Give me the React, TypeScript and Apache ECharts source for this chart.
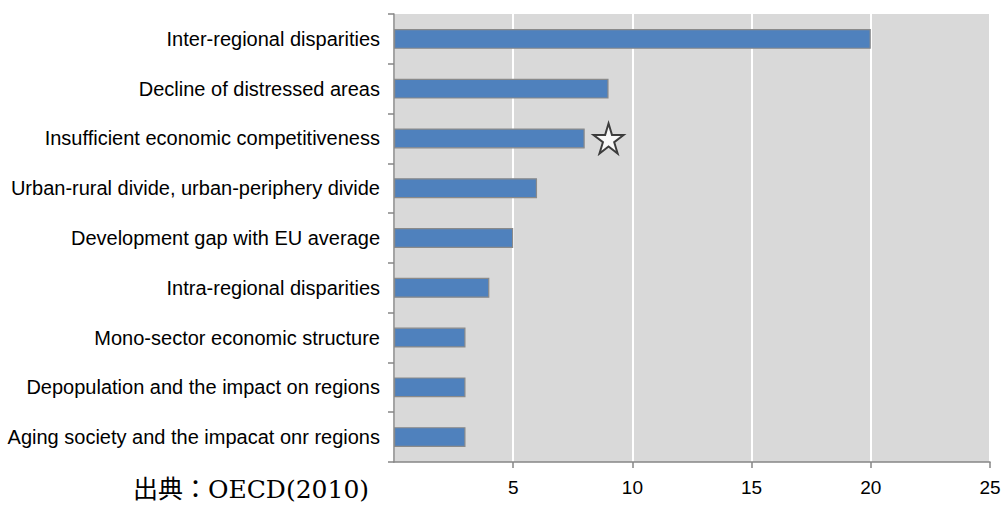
import React, { useEffect, useRef } from "react";
import * as echarts from "echarts";

// Regional issues and how many countries named them
const categories = [
  "Inter-regional disparities",
  "Decline of distressed areas",
  "Insufficient economic competitiveness",
  "Urban-rural divide, urban-periphery divide",
  "Development gap with EU average",
  "Intra-regional disparities",
  "Mono-sector economic structure",
  "Depopulation and the impact on regions",
  "Aging society and the impacat onr regions",
];
const counts = [20, 9, 8, 6, 5, 4, 3, 3, 3];

// Star marker placed beside the highlighted issue
const starCategory = "Insufficient economic competitiveness";
const starValue = 9;

const sourceNote = "出典：OECD(2010)";

const STAR_PATH =
  "path://M50,0 L61,35 L98,35 L68,57 L79,91 L50,70 L21,91 L32,57 L2,35 L39,35 Z";

export default function App() {
  const ref = useRef<HTMLDivElement>(null);

  useEffect(() => {
    document.body.style.margin = "0";
    const chart = echarts.init(ref.current!, undefined, { renderer: "svg" });
    const labelFont = "'Liberation Sans', Arial, sans-serif";
    chart.setOption({
      animation: false,
      backgroundColor: "#ffffff",
      grid: {
        left: 394,
        right: 15,
        top: 14,
        bottom: 46,
        show: true,
        backgroundColor: "#d9d9d9",
        borderWidth: 0,
      },
      xAxis: {
        type: "value",
        min: 0,
        max: 25,
        interval: 5,
        axisLine: { show: true, lineStyle: { color: "#868686", width: 1.5 } },
        axisTick: { show: true, length: 6, lineStyle: { color: "#868686", width: 1.5 } },
        axisLabel: {
          showMinLabel: false,
          margin: 16,
          fontSize: 19,
          color: "#000",
          fontFamily: labelFont,
        },
        splitLine: { show: true, lineStyle: { color: "#ffffff", width: 2 } },
      },
      yAxis: {
        type: "category",
        inverse: true,
        data: categories,
        axisLine: { show: true, lineStyle: { color: "#868686", width: 1.5 } },
        axisTick: { show: true, length: 6, lineStyle: { color: "#868686", width: 1.5 } },
        axisLabel: {
          margin: 14,
          fontSize: 20,
          color: "#000",
          fontFamily: labelFont,
        },
        splitLine: { show: false },
      },
      series: [
        {
          type: "bar",
          data: counts,
          barWidth: "40%",
          itemStyle: { color: "#4f81bd", borderColor: "#8a8a8a", borderWidth: 1.2 },
        },
        {
          type: "scatter",
          data: [[starValue, starCategory]],
          symbol: STAR_PATH,
          symbolSize: [30, 30],
          itemStyle: {
            color: "#ffffff",
            borderColor: "#111111",
            borderWidth: 2,
          },
          z: 5,
        },
      ],
      graphic: [
        {
          type: "text",
          left: 133,
          top: 477,
          style: {
            text: sourceNote,
            fontSize: 25,
            fill: "#000",
            fontFamily: "'DejaVu Serif', 'Liberation Serif', 'Noto Sans CJK JP', serif",
          },
        },
      ],
    });
    return () => chart.dispose();
  }, []);

  return <div ref={ref} style={{ width: 1005, height: 508 }} />;
}
